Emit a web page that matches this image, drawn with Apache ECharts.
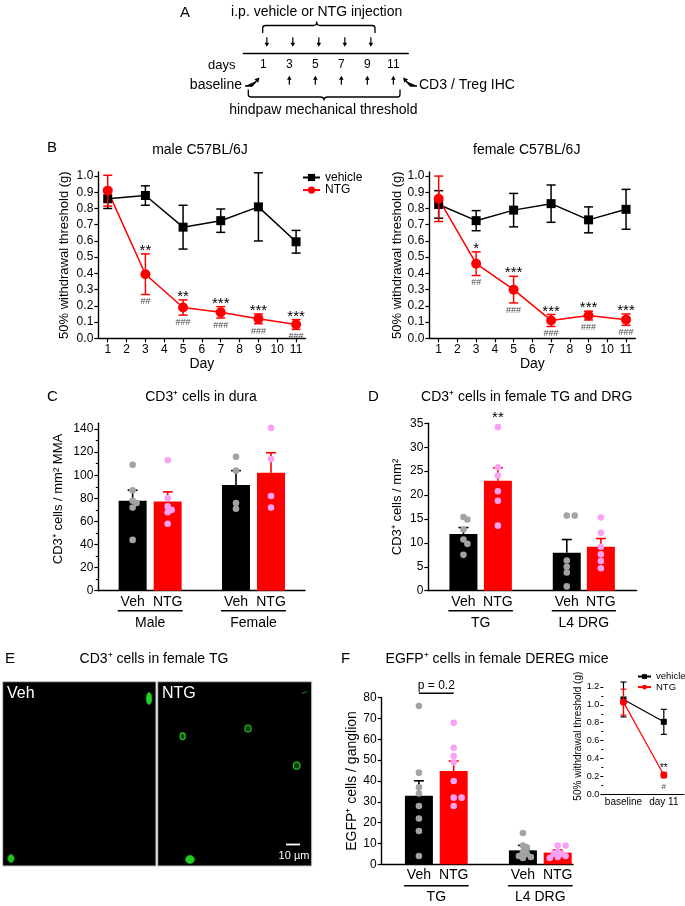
<!DOCTYPE html>
<html><head><meta charset="utf-8">
<script src="https://cdn.jsdelivr.net/npm/echarts@6/dist/echarts.min.js"></script>
<style>html,body{margin:0;padding:0;background:#fff}#c{width:685px;height:906px}</style>
</head><body><div id="c"></div>
<script>
// ================= DATA =================
// Panel A schedule
const injectionDays = [1, 3, 5, 7, 9];
const scheduleDays = [1, 3, 5, 7, 9, 11];
const measureArrowDays = [3, 5, 7, 9, 11];

// Panel B: 50% withdrawal threshold (g)
const dayCategories = ['1','2','3','4','5','6','7','8','9','10','11'];
const testDays = ['1','3','5','7','9','11'];
const bTicks = [0,0.1,0.2,0.3,0.4,0.5,0.6,0.7,0.8,0.9,1.0];
const maleVehMean = [0.86, 0.88, 0.685, 0.725, 0.81, 0.595];
const maleVehSem  = [0.06, 0.06, 0.135, 0.072, 0.21, 0.07];
const maleNtgMean = [0.91, 0.395, 0.19, 0.16, 0.12, 0.085];
const maleNtgSem  = [0.095, 0.125, 0.047, 0.035, 0.03, 0.03];
const maleStars   = ['', '**', '**', '***', '***', '***'];
const maleHashes  = ['', '##', '###', '###', '###', '###'];
const femaleVehMean = [0.825, 0.725, 0.79, 0.83, 0.73, 0.795];
const femaleVehSem  = [0.085, 0.062, 0.103, 0.115, 0.08, 0.123];
const femaleNtgMean = [0.86, 0.46, 0.30, 0.11, 0.14, 0.115];
const femaleNtgSem  = [0.14, 0.073, 0.082, 0.037, 0.027, 0.035];
const femaleStars   = ['', '*', '***', '***', '***', '***'];
const femaleHashes  = ['', '##', '###', '###', '###', '###'];

// Panel C: CD3+ cells / mm2 MMA
const barLabels = ['Veh', 'NTG', 'Veh', 'NTG'];
const duraGroups = ['Male', 'Female'];
const duraTicks = [0, 20, 40, 60, 80, 100, 120, 140];
const duraMinorTicks = [10, 30, 50, 70, 90, 110, 130];
const duraMean = [78, 77.3, 91.5, 102.2];
const duraSem  = [9, 8.3, 12.5, 17.3];
const duraPoints = [[109, 87, 78, 76, 72, 44], [113, 80, 73, 70, 68, 58], [116, 104, 76, 71], [141, 114, 82, 72]];

// Panel D: CD3+ cells / mm2
const ganglionGroups = ['TG', 'L4 DRG'];
const ganglionTicks = [0, 5, 10, 15, 20, 25, 30, 35];
const ganglionMean = [11.85, 23.0, 7.95, 9.2];
const ganglionSem  = [1.35, 2.7, 2.75, 1.7];
const ganglionPoints = [[15.4, 14.9, 12.8, 10.7, 9.8, 7.5], [34.2, 25.8, 24.1, 20.8, 18.8, 13.6], [15.7, 15.7, 6.3, 5.0, 3.8, 0.9], [15.3, 12.1, 9.2, 7.6, 6.2, 4.7]];
const ganglionStars = ['', '**', '', ''];

// Panel F: EGFP+ cells / ganglion
const deregGroups = ['TG', 'L4 DRG'];
const deregTicks = [0, 10, 20, 30, 40, 50, 60, 70, 80];
const deregMean = [32.9, 44.8, 6.7, 5.6];
const deregSem  = [7.2, 4.8, 2.4, 1.3];
const deregPoints = [[76, 44, 37, 34, 28, 22, 16, 4], [68, 56, 52, 49, 40, 32, 32, 28], [15, 9, 8, 6, 5, 4, 3.5, 3], [9, 9, 6, 5, 5, 4, 3.5, 3]];
const deregPText = 'p = 0.2';

// Panel F inset
const insetCats = ['baseline', 'day 11'];
const insetTicks = [0, 0.2, 0.4, 0.6, 0.8, 1.0, 1.2];
const insetMinorTicks = [0.1, 0.3, 0.5, 0.7, 0.9, 1.1];
const insetVehMean = [1.06, 0.81];
const insetVehSem  = [0.195, 0.14];
const insetNtgMean = [1.03, 0.215];
const insetNtgSem  = [0.145, 0.03];
const insetStars  = ['', '**'];
const insetHashes = ['', '#'];

// ================= LAYOUT / STYLE =================
const FONT = "'Liberation Sans', Arial, Helvetica, sans-serif";
const BLACK = '#000000', RED = '#ff0000';
const barColors = [BLACK, RED, BLACK, RED];
const dotColors = ['#a3a3a3', '#f9a2f5', '#a3a3a3', '#f9a2f5'];
const duraX = [0.98, 1.98, 3.93, 4.93];
const ganglionX = [1.02, 2.02, 4.02, 5.01];
const deregX = [1.07, 2.07, 4.06, 5.06];

function font(size) { return size + 'px ' + FONT; }
function textEl(x, y, text, size, color, align, va) {
  return { type: 'text', x: x, y: y, silent: true,
    style: { text: text, fill: color || '#000', font: font(size),
      textAlign: align || 'center', textVerticalAlign: va || 'middle',
      align: align || 'center', verticalAlign: va || 'middle' } };
}
function lineEl(x1, y1, x2, y2, color, w) {
  return { type: 'line', silent: true, shape: { x1: x1, y1: y1, x2: x2, y2: y2 }, style: { stroke: color, lineWidth: w } };
}

function valueY(gridIndex, min, max, ticks, fmt, name, gap, nameSize, extra) {
  const ax = {
    type: 'value', gridIndex: gridIndex, min: min, max: max, position: 'left',
    axisLine: { show: true, lineStyle: { color: BLACK, width: 1.4 } },
    axisTick: { show: true, inside: false, length: 4, customValues: ticks, lineStyle: { color: BLACK, width: 1.2 } },
    axisLabel: { show: true, color: BLACK, fontSize: 12, fontFamily: FONT, margin: 5, customValues: ticks, formatter: fmt },
    splitLine: { show: false },
    name: name, nameLocation: 'middle', nameGap: gap, nameRotate: 90,
    nameTextStyle: { color: BLACK, fontSize: nameSize || 13, fontFamily: FONT }
  };
  return Object.assign(ax, extra || {});
}
function minorY(gridIndex, min, max, ticks, len) {
  return { type: 'value', gridIndex: gridIndex, min: min, max: max, position: 'left',
    axisLine: { show: false }, axisLabel: { show: false }, splitLine: { show: false },
    axisTick: { show: true, length: len, customValues: ticks, lineStyle: { color: BLACK, width: 1.1 } } };
}
function catX(gridIndex, data, extra) {
  return Object.assign({
    type: 'category', gridIndex: gridIndex, data: data, boundaryGap: true,
    axisLine: { show: true, lineStyle: { color: BLACK, width: 1.4 } },
    axisTick: { show: true, alignWithLabel: true, length: 4, lineStyle: { color: BLACK, width: 1.2 } },
    axisLabel: { color: BLACK, fontSize: 12, fontFamily: FONT, margin: 5, interval: 0 },
    splitLine: { show: false }
  }, extra || {});
}
function barX(gridIndex, max, xs) {
  return {
    type: 'value', gridIndex: gridIndex, min: 0, max: max,
    axisLine: { show: true, lineStyle: { color: BLACK, width: 1.4 } },
    axisTick: { show: false }, splitLine: { show: false },
    axisLabel: { show: true, color: BLACK, fontSize: 14, fontFamily: FONT, margin: 4, customValues: xs,
      formatter: function (v) {
        let k = 0;
        xs.forEach(function (x, j) { if (Math.abs(x - v) < Math.abs(xs[k] - v)) k = j; });
        return barLabels[k];
      } }
  };
}

// symmetric error bars on category axes
function errSeries(xi, yi, idxs, means, sems, color, cap, lw, z) {
  return { type: 'custom', xAxisIndex: xi, yAxisIndex: yi, z: z, silent: true,
    data: idxs.map(function (x, i) { return [x, means[i], sems[i]]; }),
    renderItem: function (params, api) {
      const x = api.value(0), m = api.value(1), s = api.value(2);
      const t = api.coord([x, m + s]), b = api.coord([x, m - s]);
      return { type: 'group', children: [
        lineEl(t[0], t[1], b[0], b[1], color, lw),
        lineEl(t[0] - cap / 2, t[1], t[0] + cap / 2, t[1], color, lw),
        lineEl(b[0] - cap / 2, b[1], b[0] + cap / 2, b[1], color, lw)
      ] };
    } };
}
// significance marks above (stars) and below (hashes)
function sigSeries(xi, yi, idxs, means, sems, stars, hashes, st) {
  return { type: 'custom', xAxisIndex: xi, yAxisIndex: yi, z: 8, silent: true,
    data: idxs.map(function (x, i) { return [x, means[i], sems[i]]; }),
    renderItem: function (params, api) {
      const i = params.dataIndex;
      const x = api.value(0), m = api.value(1), s = api.value(2);
      const t = api.coord([x, m + s]), b = api.coord([x, m - s]);
      const ch = [];
      if (stars[i]) ch.push(textEl(t[0], t[1] - st.starOff, stars[i], st.starSize, '#000'));
      if (hashes[i]) ch.push(textEl(b[0], b[1] + st.hashOff, hashes[i], st.hashSize, '#4a4a4a'));
      return { type: 'group', children: ch };
    } };
}
// bar chart pieces
function barSeries(xi, yi, xs, means) {
  return { type: 'bar', xAxisIndex: xi, yAxisIndex: yi, barWidth: 28, z: 2, silent: true,
    data: means.map(function (m, i) { return { value: [xs[i], m], itemStyle: { color: barColors[i] } }; }) };
}
function barErrSeries(xi, yi, xs, means, sems) {
  return { type: 'custom', xAxisIndex: xi, yAxisIndex: yi, z: 3, silent: true,
    data: xs.map(function (x, i) { return [x, means[i], sems[i]]; }),
    renderItem: function (params, api) {
      const i = params.dataIndex;
      const x = api.value(0), m = api.value(1), s = api.value(2);
      const t = api.coord([x, m + s]), b = api.coord([x, m]);
      const c = barColors[i];
      return { type: 'group', children: [lineEl(t[0], t[1], b[0], b[1], c, 1.6), lineEl(t[0] - 5, t[1], t[0] + 5, t[1], c, 1.6)] };
    } };
}
function swarmSeries(xi, yi, xs, points, r) {
  return { type: 'custom', xAxisIndex: xi, yAxisIndex: yi, z: 6, silent: true,
    data: xs.map(function (x) { return [x, 0]; }),
    renderItem: function (params, api) {
      const i = params.dataIndex;
      const cx = api.coord([xs[i], 0])[0];
      const placed = [], ch = [];
      points[i].forEach(function (v) {
        const y = api.coord([xs[i], v])[1];
        const steps = [0, 1, -1, 2, -2, 3, -3];
        let px = cx;
        for (let q = 0; q < steps.length; q++) {
          const tx = cx + steps[q] * r * 1.2;
          if (placed.every(function (p) { return Math.hypot(p[0] - tx, p[1] - y) >= 1.35 * r; })) { px = tx; break; }
        }
        placed.push([px, y]);
        ch.push({ type: 'circle', shape: { cx: px, cy: y, r: r }, style: { fill: dotColors[i] } });
      });
      return { type: 'group', children: ch };
    } };
}
function groupSeries(xi, yi, xs, names, lineOff, textOff) {
  return { type: 'custom', xAxisIndex: xi, yAxisIndex: yi, z: 4, silent: true,
    data: names.map(function (n, g) { return [xs[2 * g], 0, xs[2 * g + 1]]; }),
    renderItem: function (params, api) {
      const a = api.coord([api.value(0), 0]), b = api.coord([api.value(2), 0]);
      const y = a[1];
      return { type: 'group', children: [
        lineEl(a[0] - 15, y + lineOff, b[0] + 15, y + lineOff, BLACK, 1.5),
        textEl((a[0] + b[0]) / 2, y + textOff, names[params.dataIndex], 14, BLACK)
      ] };
    } };
}
function barStarSeries(xi, yi, xs, points, stars) {
  return { type: 'custom', xAxisIndex: xi, yAxisIndex: yi, z: 8, silent: true,
    data: xs.map(function (x) { return [x, 0]; }),
    renderItem: function (params, api) {
      const i = params.dataIndex;
      if (!stars[i]) return { type: 'group', children: [] };
      const p = api.coord([xs[i], Math.max.apply(null, points[i])]);
      return textEl(p[0], p[1] - 9, stars[i], 15, BLACK);
    } };
}

// ================= OPTION =================
const grids = [
  { left: 98.3, top: 172, width: 207.2, height: 166.3 },   // 0 B male
  { left: 429.3, top: 172, width: 206.1, height: 166.3 },  // 1 B female
  { left: 98.3, top: 423.3, width: 206.7, height: 167.4 }, // 2 C
  { left: 428.3, top: 423.3, width: 208.4, height: 167.4 },// 3 D
  { left: 381.7, top: 697.7, width: 191.3, height: 166.6 },// 4 F
  { left: 603.3, top: 678, width: 80.7, height: 116.3 },   // 5 inset
  { left: 243.3, top: 30, width: 165, height: 23.3 }       // 6 A timeline
].map(function (g) { return Object.assign({ containLabel: false, outerBoundsMode: 'none' }, g); });

const fmt1 = function (v) { return Number(v).toFixed(1); };
const fmt0 = function (v) { return String(Math.round(v)); };

const xAxes = [
  catX(0, dayCategories, { name: 'Day', nameLocation: 'middle', nameGap: 19, nameTextStyle: { color: BLACK, fontSize: 14, fontFamily: FONT } }),
  catX(1, dayCategories, { name: 'Day', nameLocation: 'middle', nameGap: 19, nameTextStyle: { color: BLACK, fontSize: 14, fontFamily: FONT } }),
  barX(2, 5.9, duraX),
  barX(3, 6.05, ganglionX),
  barX(4, 5.5, deregX),
  catX(5, insetCats, { axisTick: { show: false }, axisLine: { lineStyle: { color: BLACK, width: 1 } },
    axisLabel: { color: BLACK, fontSize: 10, fontFamily: FONT, margin: 3, interval: 0 } }),
  { type: 'value', gridIndex: 6, min: -0.54, max: 12.15,
    axisLine: { show: true, lineStyle: { color: BLACK, width: 1.4 } }, axisTick: { show: false }, splitLine: { show: false },
    axisLabel: { color: BLACK, fontSize: 12, fontFamily: FONT, margin: 5, customValues: scheduleDays, formatter: fmt0 } }
];
const yAxes = [
  valueY(0, 0, 1.025, bTicks, fmt1, '50% withdrawal threshold (g)', 27, 13),                  // 0
  valueY(1, 0, 1.025, bTicks, fmt1, '50% withdrawal threshold (g)', 24, 13),                  // 1
  valueY(2, 0, 145, duraTicks, fmt0, 'CD3\u207A cells / mm\u00B2 MMA', 33, 13,
    { nameTextStyle: { color: BLACK, fontSize: 13, fontFamily: FONT, padding: [0, 0, 0, 16] } }), // 2
  minorY(2, 0, 145, duraMinorTicks, 2.5),                                                      // 3
  valueY(3, 0, 35, ganglionTicks, fmt0, 'CD3\u207A cells / mm\u00B2', 24, 13,
    { minorTick: { show: true, splitNumber: 2, length: 2.5, lineStyle: { color: BLACK, width: 1.1 } } }), // 4
  valueY(4, 0, 80, deregTicks, fmt0, 'EGFP\u207A cells / ganglion', 20, 14),                  // 5
  valueY(5, 0, 1.3, insetTicks, fmt1, '50% withdrawal threshold (g)', 13, 10,
    { axisLine: { lineStyle: { color: BLACK, width: 1 } },
      axisTick: { show: true, length: 3, customValues: insetTicks, lineStyle: { color: BLACK, width: 1 } },
      axisLabel: { color: BLACK, fontSize: 9, fontFamily: FONT, margin: 4, customValues: insetTicks, formatter: fmt1 } }), // 6
  minorY(5, 0, 1.3, insetMinorTicks, 2),                                                      // 7
  { type: 'value', gridIndex: 6, min: 0, max: 1, show: false }                                // 8
];

const catIdx = testDays.map(function (d) { return dayCategories.indexOf(d); });
const insetIdx = [0, 1];

function lineSeries(name, xi, yi, idxs, means, color, symbol, size, lw) {
  return { type: 'line', name: name, xAxisIndex: xi, yAxisIndex: yi, z: 5, silent: true,
    data: idxs.map(function (x, i) { return [x, means[i]]; }),
    symbol: symbol, symbolSize: size, showSymbol: true,
    itemStyle: { color: color }, lineStyle: { color: color, width: lw } };
}

const bSig = { starOff: 3, starSize: 15, hashOff: 7.5, hashSize: 9 };
const series = [
  // B male
  errSeries(0, 0, catIdx, maleVehMean, maleVehSem, BLACK, 9, 1.5, 3),
  lineSeries('vehicle', 0, 0, catIdx, maleVehMean, BLACK, 'rect', 9, 1.5),
  errSeries(0, 0, catIdx, maleNtgMean, maleNtgSem, RED, 9, 1.5, 6),
  lineSeries('NTG', 0, 0, catIdx, maleNtgMean, RED, 'circle', 10, 1.5),
  sigSeries(0, 0, catIdx, maleNtgMean, maleNtgSem, maleStars, maleHashes, bSig),
  // B female
  errSeries(1, 1, catIdx, femaleVehMean, femaleVehSem, BLACK, 9, 1.5, 3),
  lineSeries('vehicle', 1, 1, catIdx, femaleVehMean, BLACK, 'rect', 9, 1.5),
  errSeries(1, 1, catIdx, femaleNtgMean, femaleNtgSem, RED, 9, 1.5, 6),
  lineSeries('NTG', 1, 1, catIdx, femaleNtgMean, RED, 'circle', 10, 1.5),
  sigSeries(1, 1, catIdx, femaleNtgMean, femaleNtgSem, femaleStars, femaleHashes, bSig),
  // C
  barSeries(2, 2, duraX, duraMean),
  barErrSeries(2, 2, duraX, duraMean, duraSem),
  swarmSeries(2, 2, duraX, duraPoints, 3.3),
  groupSeries(2, 2, duraX, duraGroups, 20, 32),
  // D
  barSeries(3, 4, ganglionX, ganglionMean),
  barErrSeries(3, 4, ganglionX, ganglionMean, ganglionSem),
  swarmSeries(3, 4, ganglionX, ganglionPoints, 3.3),
  groupSeries(3, 4, ganglionX, ganglionGroups, 20, 32),
  barStarSeries(3, 4, ganglionX, ganglionPoints, ganglionStars),
  // F
  barSeries(4, 5, deregX, deregMean),
  barErrSeries(4, 5, deregX, deregMean, deregSem),
  swarmSeries(4, 5, deregX, deregPoints, 3.3),
  groupSeries(4, 5, deregX, deregGroups, 21.4, 32.4),
  { type: 'custom', xAxisIndex: 4, yAxisIndex: 5, z: 8, silent: true, data: [[deregX[0], 80, deregX[1]]],
    renderItem: function (params, api) {
      const a = api.coord([api.value(0), api.value(1)]), b = api.coord([api.value(2), api.value(1)]);
      return { type: 'group', children: [lineEl(a[0], a[1] - 4.4, b[0], b[1] - 4.4, BLACK, 1.5),
        textEl((a[0] + b[0]) / 2, a[1] - 12, deregPText, 12, BLACK)] };
    } },
  // F inset
  errSeries(5, 6, insetIdx, insetVehMean, insetVehSem, BLACK, 6, 1.2, 3),
  lineSeries('vehicle', 5, 6, insetIdx, insetVehMean, BLACK, 'rect', 6, 1.2),
  errSeries(5, 6, insetIdx, insetNtgMean, insetNtgSem, RED, 6, 1.2, 6),
  lineSeries('NTG', 5, 6, insetIdx, insetNtgMean, RED, 'circle', 7, 1.2),
  sigSeries(5, 6, insetIdx, insetNtgMean, insetNtgSem, insetStars, insetHashes, { starOff: 4, starSize: 10, hashOff: 9, hashSize: 8 }),
  // A: injection arrows (down) and test arrows (up)
  { type: 'custom', xAxisIndex: 6, yAxisIndex: 8, silent: true, data: injectionDays.map(function (d) { return [d, 0]; }),
    renderItem: function (params, api) {
      const p = api.coord([api.value(0), 0]); const x = p[0] + 3.5, y = p[1];
      return { type: 'group', children: [lineEl(x, y - 16, x, y - 9.5, BLACK, 1.2),
        { type: 'polygon', shape: { points: [[x - 2.3, y - 10.5], [x + 2.3, y - 10.5], [x, y - 6.5]] }, style: { fill: BLACK } }] };
    } },
  { type: 'custom', xAxisIndex: 6, yAxisIndex: 8, silent: true, data: measureArrowDays.map(function (d) { return [d, 0]; }),
    renderItem: function (params, api) {
      const p = api.coord([api.value(0), 0]); const x = p[0], y = p[1];
      return { type: 'group', children: [lineEl(x, y + 31.5, x, y + 25.5, BLACK, 1.2),
        { type: 'polygon', shape: { points: [[x - 2.3, y + 26.5], [x + 2.3, y + 26.5], [x, y + 22.5]] }, style: { fill: BLACK } }] };
    } },
  // A: braces and bent arrows
  { type: 'custom', xAxisIndex: 6, yAxisIndex: 8, silent: true, data: [[0, 0]],
    renderItem: function () {
      const st = { stroke: BLACK, lineWidth: 1.3, fill: null };
      return { type: 'group', children: [
        { type: 'path', shape: { pathData: 'M262.7,33 L262.7,28 Q262.7,25.5 265.5,25.5 L313.5,25.5 Q316.7,25.5 316.7,21.5 Q316.7,25.5 320,25.5 L372,25.5 Q375,25.5 375,28 L375,33' }, style: st },
        { type: 'path', shape: { pathData: 'M248.3,89.5 L248.3,94.5 Q248.3,97 251,97 L320.5,97 Q324,97 324,100.5 Q324,97 327.5,97 L397.5,97 Q400,97 400,94.5 L400,89.5' }, style: st },
        { type: 'polyline', shape: { points: [[245, 86], [252, 86], [256.5, 81]] }, style: { stroke: BLACK, lineWidth: 1.3 } },
        { type: 'polygon', shape: { points: [[259.5, 77.5], [258.2, 82.8], [254.4, 79.2]] }, style: { fill: BLACK } },
        { type: 'polyline', shape: { points: [[417, 86], [410.5, 86], [406, 81]] }, style: { stroke: BLACK, lineWidth: 1.3 } },
        { type: 'polygon', shape: { points: [[403, 77.5], [404.3, 82.8], [408.1, 79.2]] }, style: { fill: BLACK } }
      ] };
    } }
];

// Panel E micrographs and all titles
const graphic = [
  textEl(180, 12.5, 'A', 15, BLACK, 'left'),
  textEl(316.7, 12.3, 'i.p. vehicle or NTG injection', 14, BLACK),
  textEl(221.7, 65.5, 'days', 13, BLACK),
  textEl(242, 85.5, 'baseline', 14, BLACK, 'right'),
  textEl(419, 85.5, 'CD3 / Treg IHC', 14, BLACK, 'left'),
  textEl(323.3, 110.5, 'hindpaw mechanical threshold', 14, BLACK),
  textEl(47, 148, 'B', 15, BLACK, 'left'),
  textEl(200, 150, 'male C57BL/6J', 14, BLACK),
  textEl(526.7, 150, 'female C57BL/6J', 14, BLACK),
  textEl(47, 397, 'C', 15, BLACK, 'left'),
  textEl(201, 397, 'CD3\u207A cells in dura', 14, BLACK),
  textEl(368, 397, 'D', 15, BLACK, 'left'),
  textEl(526.7, 397, 'CD3\u207A cells in female TG and DRG', 14, BLACK),
  textEl(5, 659, 'E', 15, BLACK, 'left'),
  textEl(154, 659, 'CD3\u207A cells in female TG', 14, BLACK),
  textEl(341, 659, 'F', 15, BLACK, 'left'),
  textEl(497, 659, 'EGFP\u207A cells in female DEREG mice', 14, BLACK),
  // micrographs
  { type: 'rect', silent: true, shape: { x: 2.7, y: 681.7, width: 153.3, height: 184.3 }, style: { fill: '#000', stroke: '#c4c4c4', lineWidth: 1 } },
  { type: 'rect', silent: true, shape: { x: 157.7, y: 681.7, width: 154, height: 184.3 }, style: { fill: '#000', stroke: '#c4c4c4', lineWidth: 1 } },
  { type: 'ellipse', silent: true, shape: { cx: 149, cy: 698.5, rx: 2.8, ry: 6 }, style: { fill: '#22d322', stroke: '#11a811', lineWidth: 0.8 } },
  { type: 'ellipse', silent: true, shape: { cx: 11, cy: 858.5, rx: 3.2, ry: 4 }, style: { fill: '#1fc41f', stroke: '#119911', lineWidth: 0.8 } },
  { type: 'ellipse', silent: true, shape: { cx: 182.7, cy: 736.3, rx: 2.6, ry: 3.3 }, style: { fill: '#063d06', stroke: '#1fbf1f', lineWidth: 1.3 } },
  { type: 'ellipse', silent: true, shape: { cx: 248, cy: 728.5, rx: 3.2, ry: 3.4 }, style: { fill: '#063d06', stroke: '#1fb41f', lineWidth: 1.3 } },
  { type: 'ellipse', silent: true, shape: { cx: 296.7, cy: 765.7, rx: 3.3, ry: 3.5 }, style: { fill: '#063d06', stroke: '#1fbf1f', lineWidth: 1.3 } },
  { type: 'ellipse', silent: true, shape: { cx: 190, cy: 859.5, rx: 4.5, ry: 4.2 }, style: { fill: '#22cc22', stroke: '#119911', lineWidth: 0.8 } },
  { type: 'line', silent: true, shape: { x1: 302, y1: 693.5, x2: 307, y2: 691.5 }, style: { stroke: '#137a13', lineWidth: 1.2 } },
  textEl(7, 694, 'Veh', 16, '#ffffff', 'left'),
  textEl(162, 694, 'NTG', 16, '#ffffff', 'left'),
  { type: 'line', silent: true, shape: { x1: 286, y1: 844.5, x2: 300, y2: 844.5 }, style: { stroke: '#ffffff', lineWidth: 1.8 } },
  textEl(294, 855.5, '10 \u00B5m', 11, '#ffffff')
];

const option = {
  animation: false,
  backgroundColor: '#ffffff',
  textStyle: { fontFamily: FONT },
  grid: grids,
  xAxis: xAxes,
  yAxis: yAxes,
  legend: [
    { data: ['vehicle', 'NTG'], orient: 'vertical', left: 302, top: 171.5, padding: 0, itemGap: 0.6,
      itemWidth: 17, itemHeight: 9, selectedMode: false,
      textStyle: { color: BLACK, fontSize: 12, fontFamily: FONT, lineHeight: 10 } },
    { data: ['vehicle', 'NTG'], orient: 'vertical', left: 637, top: 671.5, padding: 0, itemGap: 0.6,
      itemWidth: 13, itemHeight: 6, selectedMode: false,
      textStyle: { color: BLACK, fontSize: 9.5, fontFamily: FONT, lineHeight: 8 } }
  ],
  graphic: { elements: graphic },
  series: series
};

const chart = echarts.init(document.getElementById('c'), null, { renderer: 'canvas', width: 685, height: 906 });
chart.setOption(option);
</script>
</body></html>
